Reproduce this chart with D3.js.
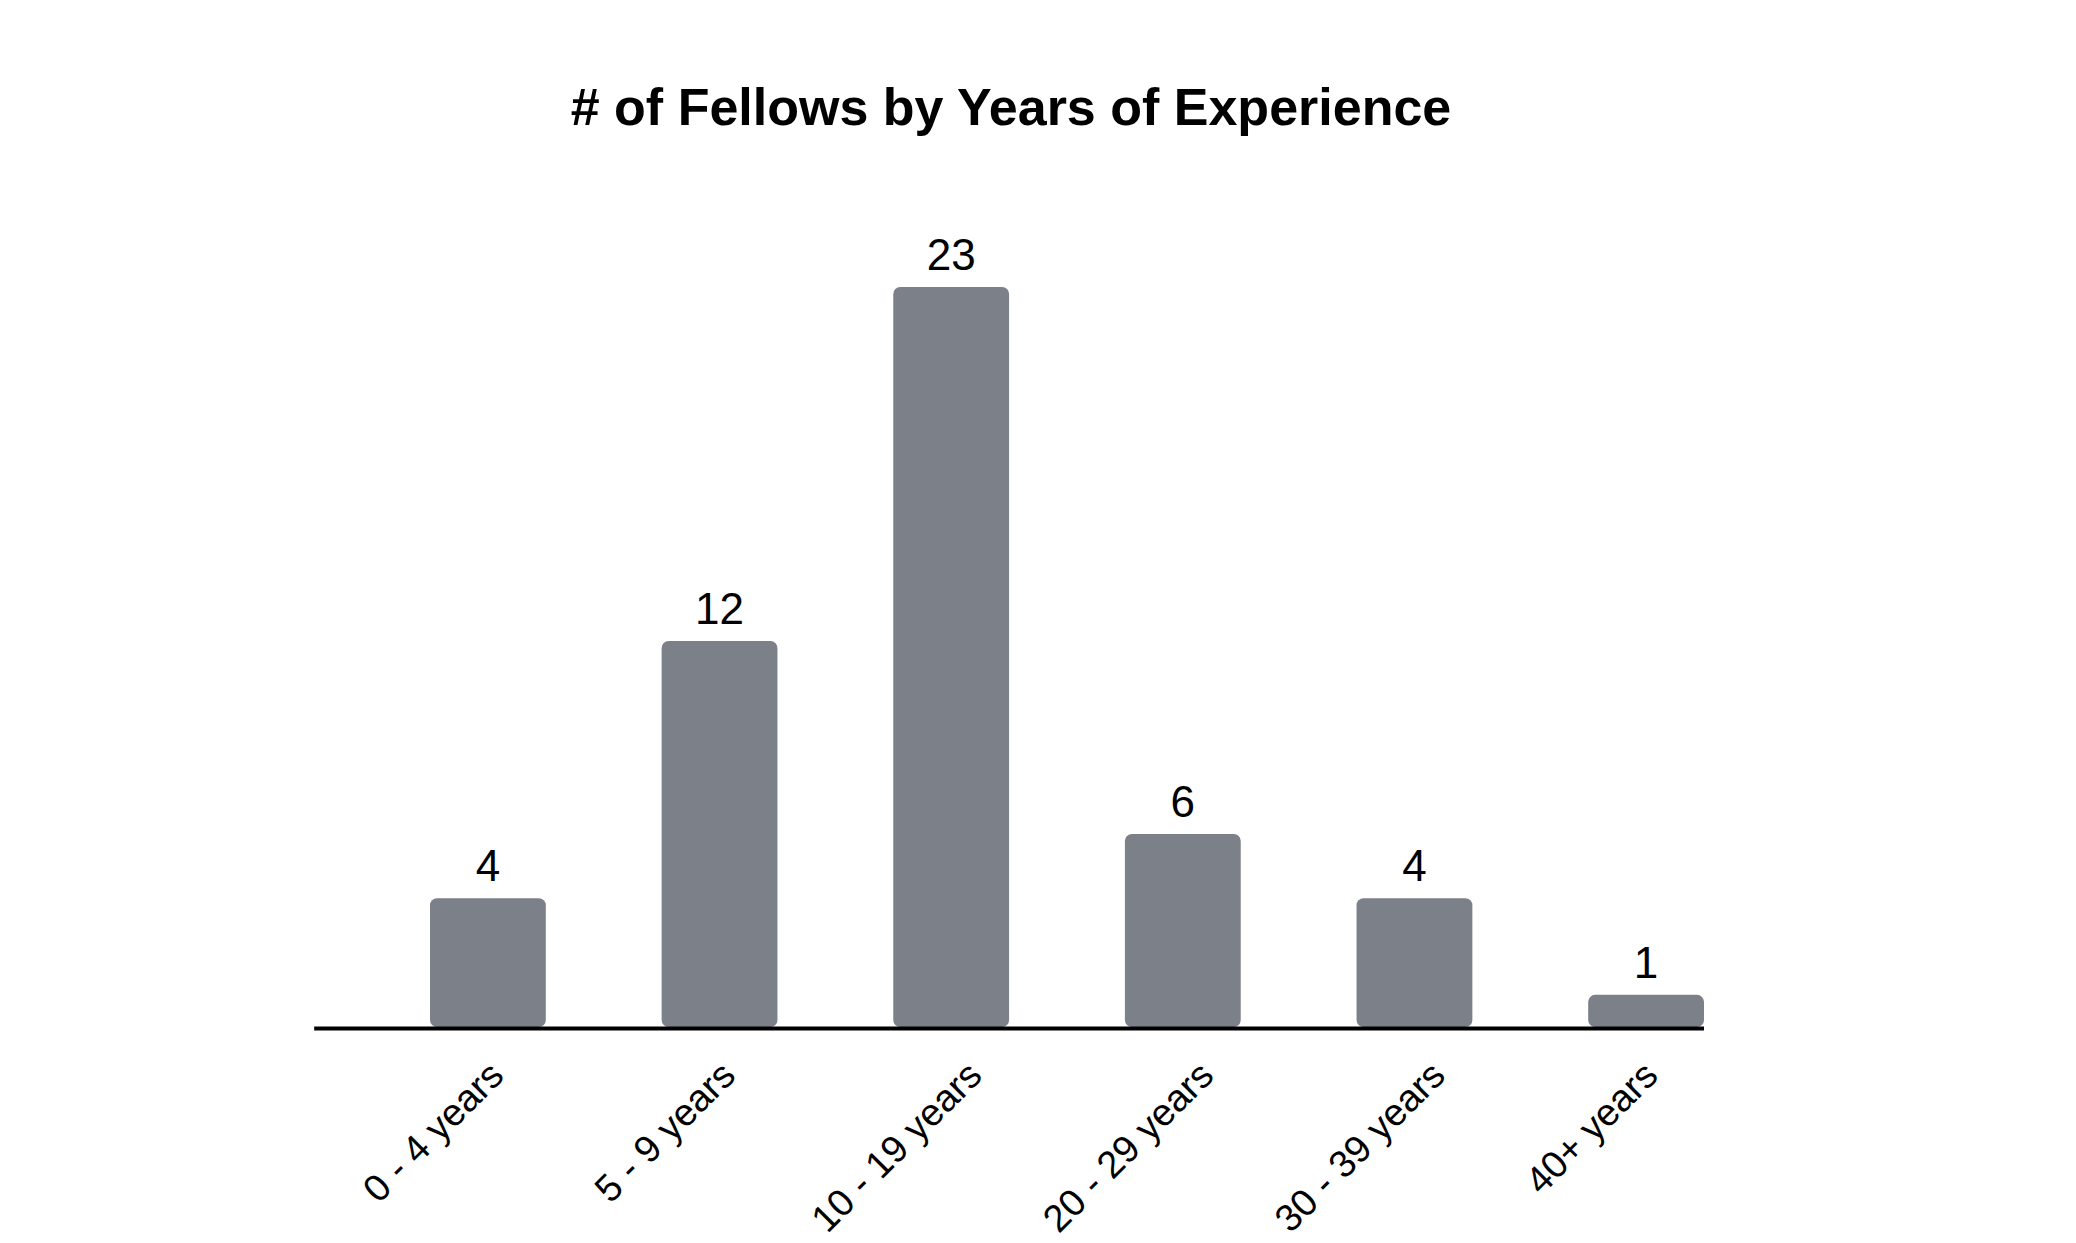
<!DOCTYPE html>
<html>
<head>
<meta charset="utf-8">
<script src="https://cdn.jsdelivr.net/npm/d3@7"></script>
<style>
	html, body { margin: 0; padding: 0; background: #fff; }
	svg { display: block; }
	text { font-family: "Century Gothic", "Liberation Sans", Arial, sans-serif; fill: #000; }
</style>
</head>
<body>
<div id="graph"></div>
<script>
const titleText = '# of Fellows by Years of Experience';
const categories = ['0 - 4 years', '5 - 9 years', '10 - 19 years', '20 - 29 years', '30 - 39 years', '40+ years'];
const fellows = [4, 12, 23, 6, 4, 1];

document.addEventListener('DOMContentLoaded', () => {
	let width  = 2076;
	let height = 1243;

	let data = categories.map((c, i) => ({ label: c, value: fellows[i] }));

	let x = d3.scaleBand()
		.domain(categories)
		.range([430, 1704])
		.paddingInner(0.5)
		.paddingOuter(0);
	let y = d3.scaleLinear()
		.domain([0, d3.max(fellows)])
		.range([1027, 287]);

	let svg = d3.select('#graph')
		.append('svg')
			.attr('width', width)
			.attr('height', height);

	svg.append('text')
		.attr('x', 1011)
		.attr('y', 125)
		.attr('text-anchor', 'middle')
		.style('font-size', '52px')
		.style('font-weight', 'bold')
		.text(titleText);

	// bars
	svg.selectAll('.bar')
		.data(data)
		.enter().append('rect')
			.attr('class', 'bar')
			.attr('x', (d) => x(d.label))
			.attr('y', (d) => y(d.value))
			.attr('width', x.bandwidth())
			.attr('height', (d) => y(0) - y(d.value))
			.attr('rx', 7)
			.attr('fill', '#7b8089');

	// value labels
	svg.selectAll('.val')
		.data(data)
		.enter().append('text')
			.attr('class', 'val')
			.attr('x', (d) => x(d.label) + x.bandwidth() / 2)
			.attr('y', (d) => y(d.value) - 17)
			.attr('text-anchor', 'middle')
			.style('font-size', '44px')
			.text((d) => d.value);

	// baseline, reaching half a step left of the first bar
	svg.append('line')
		.attr('x1', x.range()[0] - x.step() / 2)
		.attr('x2', x.range()[1])
		.attr('y1', y(0) + 1.5)
		.attr('y2', y(0) + 1.5)
		.attr('stroke', '#000')
		.attr('stroke-width', 4);

	let xAxis = d3.axisBottom(x)
		.tickSize(0)
		.tickSizeOuter(0);

	let gx = svg.append('g')
		.attr('class', 'x axis')
		.attr('transform', 'translate(0, ' + y(0) + ')')
		.call(xAxis);
	gx.select('.domain').remove();

	// rotated labels: centred 55px left of the bar, tops lined up
	gx.selectAll('.tick')
		.attr('transform', null);
	gx.selectAll('.tick text')
		.style('font-size', '38px')
		.style('font-family', '"Century Gothic", "Liberation Sans", Arial, sans-serif')
		.attr('fill', '#000')
		.attr('text-anchor', 'middle')
		.attr('x', 0)
		.attr('y', 0)
		.attr('dy', '0.35em')
		.attr('transform', function(d) {
			let len = this.getComputedTextLength();
			let cx = x(d) + x.bandwidth() / 2 - 55;
			let cy = 41 + len * 0.354;
			return 'translate(' + cx + ', ' + cy + ') rotate(-45)';
		});
});
</script>
</body>
</html>
